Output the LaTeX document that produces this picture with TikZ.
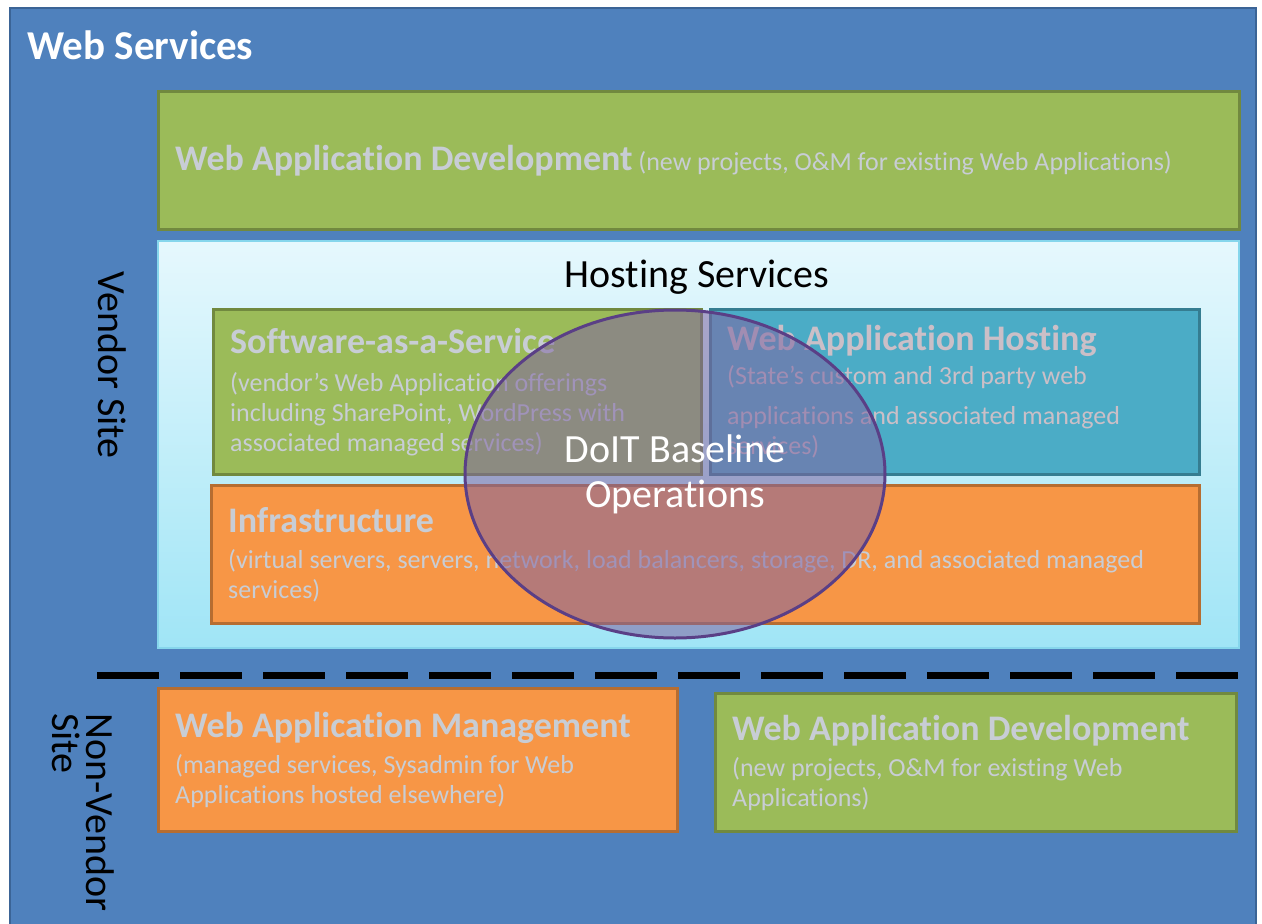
\documentclass[tikz,border=0pt]{standalone}
\usepackage{fontspec}
\setmainfont{Carlito}[Ligatures=NoCommon]
\usepackage{tikz}
\usetikzlibrary{positioning,shapes.geometric}
\definecolor{frame}{HTML}{4F81BD}
\definecolor{frameedge}{HTML}{3B6496}
\definecolor{leaf}{HTML}{9BBB59}
\definecolor{leafedge}{HTML}{71893F}
\definecolor{amber}{HTML}{F79646}
\definecolor{amberedge}{HTML}{B66D31}
\definecolor{teal}{HTML}{4BACC6}
\definecolor{tealedge}{HTML}{357D91}
\definecolor{sky}{HTML}{E6F8FD}
\definecolor{skydeep}{HTML}{A0E5F6}
\definecolor{skyedge}{HTML}{86D6EC}
\definecolor{plum}{HTML}{8064A2}
\definecolor{plumedge}{HTML}{5A3F86}
\definecolor{faint}{HTML}{C8CDD5}
\definecolor{faintpink}{HTML}{CBBFC7}
\newcommand\boxtitle{\bfseries\fontsize{36}{40}\selectfont}
\newcommand\boxnote{\mdseries\fontsize{26}{30}\selectfont}
\tikzset{
  blk/.style={draw=#1edge, fill=#1, line width=3pt, inner sep=0pt, anchor=north west},
  boxtext/.style={text=faint, align=left, inner sep=0pt, anchor=west, font=\boxnote},
  big/.style={font=\fontsize{40}{34}\selectfont, inner sep=0pt},
  split/.style={draw=black, line width=7pt, dash pattern=on 62pt off 21pt},
  baseline/.style={ellipse, draw=plumedge, line width=3pt, fill=plum, fill opacity=0.55,
    text opacity=1, text=white, align=center, inner sep=0pt,
    font=\fontsize{40}{45}\selectfont},
}

\begin{document}
\begin{tikzpicture}[x=1pt,y=-1pt]
  \useasboundingbox (0,0) rectangle (1262,924);
  \fill[white] (0,0) rectangle (1262,924);
  \draw[fill=frame, draw=frameedge, line width=2pt] (10,8) rectangle (1256,930);
  \node[anchor=west, text=white, inner sep=0pt, font=\bfseries\fontsize{41}{46}\selectfont] (websvc) at (27,45) {Web Services};

  \node[blk=leaf, minimum width=1081pt, minimum height=138pt] (devtop) at (157,90) {};
  \node[boxtext, right=18pt of devtop.west] (devtoptxt)
    {{\boxtitle Web Application Development} (new projects, O\&M for existing Web Applications)};

  \node[anchor=north west, minimum width=1081pt, minimum height=407pt, inner sep=0pt,
    draw=skyedge, line width=1.5pt, top color=sky, bottom color=skydeep] (hosting) at (157,240) {};
  \node[big, text=black] (hostingtxt) at (697,277) {Hosting Services};

  \node[blk=leaf, minimum width=488pt, minimum height=165pt] (saas) at (212,308) {};
  \node[boxtext, right=18pt of saas.west] (saastxt)
    {{\boxtitle Software-as-a-Service}\\[8pt]
     (vendor's Web Application offerings\\
     including SharePoint, WordPress with\\
     associated managed services)};

  \node[blk=teal, minimum width=489pt, minimum height=165pt] (wah) at (709,308) {};
  \node[boxtext, text=faintpink, right=18pt of wah.west] (wahtxt)
    {{\boxtitle Web Application Hosting}\\[4pt]
     (State's custom and 3rd party web\\[10pt]
     applications and associated managed\\
     services)};

  \node[blk=amber, minimum width=988pt, minimum height=138pt] (infra) at (210,484) {};
  \node[boxtext, right=18pt of infra.west] (infratxt)
    {{\boxtitle Infrastructure}\\[6pt]
     (virtual servers, servers, network, load balancers, storage, DR, and associated managed\\
     services)};

  \node[baseline, minimum width=420pt, minimum height=328pt] (doit) at (675,474) {DoIT Baseline\\Operations};

  \node[big, rotate=-90] (vendor) at (112,365) {Vendor Site};

  \coordinate (cutL) at (97,675);
  \coordinate (cutR) at (1240,675);
  \draw[split] (cutL) -- (cutR);

  \node[big, rotate=-90, anchor=north west, align=left] (nonvendor) at (114,713) {Non-Vendor\\Site};

  \node[blk=amber, minimum width=519pt, minimum height=143pt] (wam) at (157,687) {};
  \node[boxtext, right=18pt of wam.west] (wamtxt)
    {{\boxtitle Web Application Management}\\[6pt]
     (managed services, Sysadmin for Web\\
     Applications hosted elsewhere)};

  \node[blk=leaf, minimum width=521pt, minimum height=138pt] (devlow) at (714,692) {};
  \node[boxtext, right=18pt of devlow.west] (devlowtxt)
    {{\boxtitle Web Application Development}\\[6pt]
     (new projects, O\&M for existing Web\\
     Applications)};
\end{tikzpicture}
\end{document}
